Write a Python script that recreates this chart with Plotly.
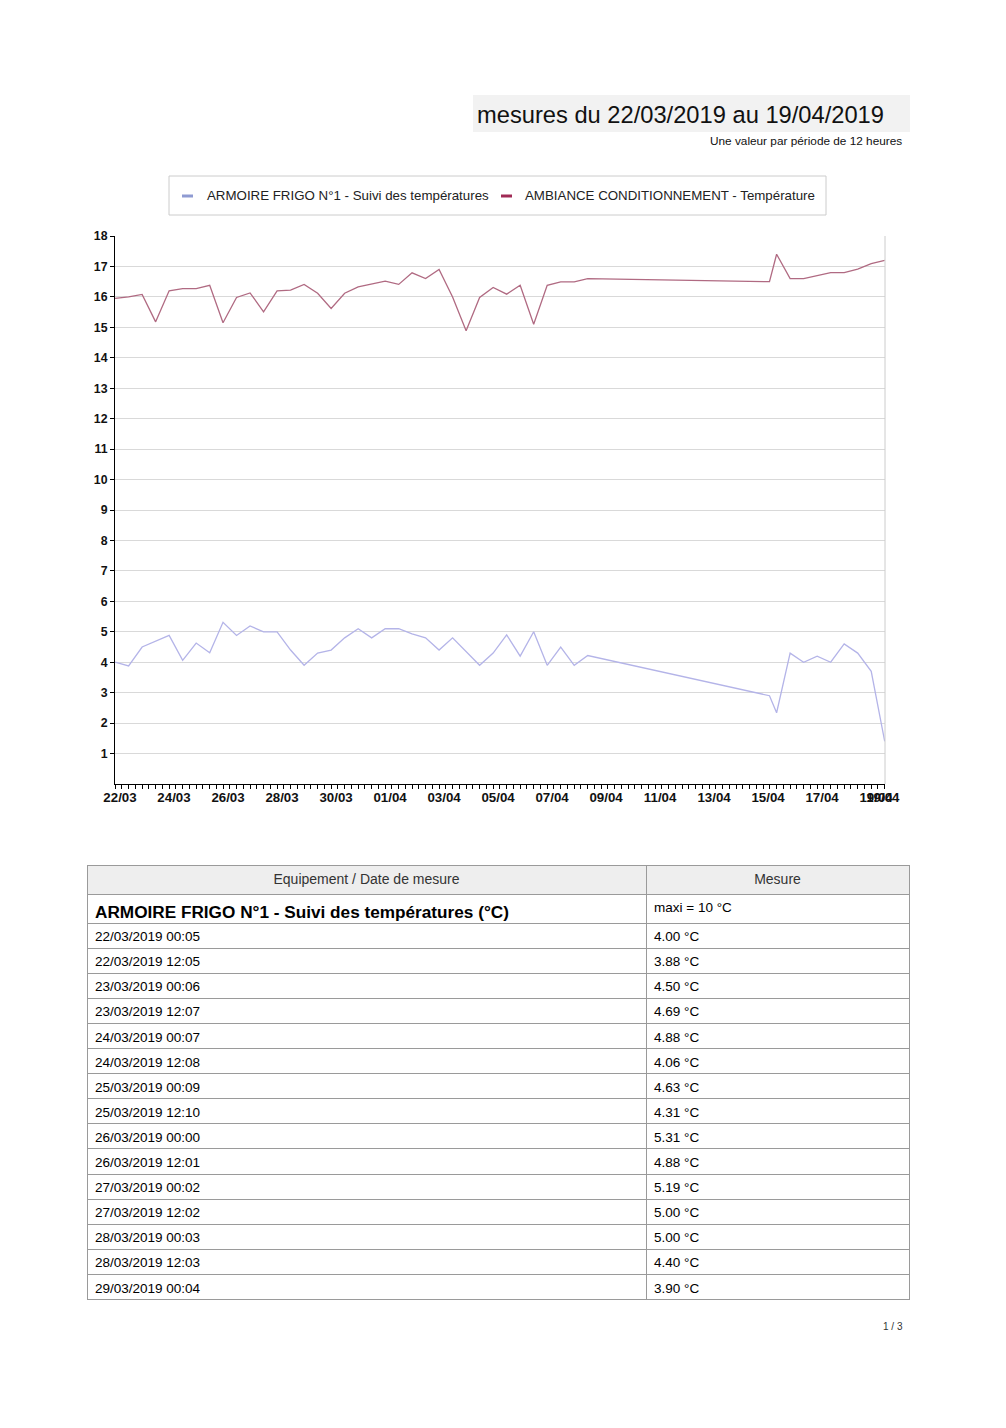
import plotly.graph_objects as go

W, H = 1006, 1428
FONT = "Liberation Sans, Arial, Helvetica, sans-serif"

# ---------------- data ----------------
times = [
    "2019-03-22 00:05", "2019-03-22 12:05", "2019-03-23 00:06", "2019-03-23 12:07",
    "2019-03-24 00:07", "2019-03-24 12:08", "2019-03-25 00:09", "2019-03-25 12:10",
    "2019-03-26 00:00", "2019-03-26 12:01", "2019-03-27 00:02", "2019-03-27 12:02",
    "2019-03-28 00:03", "2019-03-28 12:03", "2019-03-29 00:04", "2019-03-29 12:05",
    "2019-03-30 00:05", "2019-03-30 12:06", "2019-03-31 00:07", "2019-03-31 12:07",
    "2019-04-01 00:08", "2019-04-01 12:09", "2019-04-02 00:00", "2019-04-02 12:01",
    "2019-04-03 00:01", "2019-04-03 12:02", "2019-04-04 00:03", "2019-04-04 12:03",
    "2019-04-05 00:04", "2019-04-05 12:05", "2019-04-06 00:05", "2019-04-06 12:06",
    "2019-04-07 00:07", "2019-04-07 12:07", "2019-04-08 00:08", "2019-04-08 12:09",
    "2019-04-15 05:40", "2019-04-15 12:00", "2019-04-16 00:01", "2019-04-16 12:01",
    "2019-04-17 00:02", "2019-04-17 12:03", "2019-04-18 00:03", "2019-04-18 12:04",
    "2019-04-19 00:05", "2019-04-19 12:05",
]

frigo = [
    4.00, 3.88, 4.50, 4.69, 4.88, 4.06, 4.63, 4.31, 5.31, 4.88, 5.19, 5.00,
    5.00, 4.40, 3.90, 4.30, 4.40, 4.80, 5.10, 4.80, 5.10, 5.10, 4.93, 4.80,
    4.40, 4.80, 4.35, 3.90, 4.30, 4.90, 4.20, 5.00, 3.90, 4.50, 3.90, 4.22,
    2.90, 2.34, 4.30, 4.00, 4.20, 4.00, 4.60, 4.30, 3.70, 1.40,
]

ambiance = [
    15.95, 16.00, 16.08, 15.18, 16.20, 16.27, 16.27, 16.38, 15.15, 15.98, 16.13, 15.51,
    16.20, 16.22, 16.41, 16.12, 15.62, 16.12, 16.33, 16.42, 16.52, 16.41, 16.79, 16.60,
    16.90, 16.00, 14.89, 15.98, 16.31, 16.09, 16.38, 15.10, 16.38, 16.49, 16.49, 16.60,
    16.50, 17.40, 16.60, 16.60, 16.70, 16.80, 16.80, 16.91, 17.09, 17.20,
]

name_frigo = "ARMOIRE FRIGO N°1 - Suivi des températures"
name_amb = "AMBIANCE CONDITIONNEMENT - Température"

x_tickvals = [
    "2019-03-22", "2019-03-24", "2019-03-26", "2019-03-28", "2019-03-30",
    "2019-04-01", "2019-04-03", "2019-04-05", "2019-04-07", "2019-04-09",
    "2019-04-11", "2019-04-13", "2019-04-15", "2019-04-17", "2019-04-19",
    "2019-04-19 06:00",
]
x_ticktext = [
    "22/03", "24/03", "26/03", "28/03", "30/03", "01/04", "03/04", "05/04",
    "07/04", "09/04", "11/04", "13/04", "15/04", "17/04", "19/04", "19/04",
]
y_tickvals = list(range(1, 19))

title_text = "mesures du 22/03/2019 au 19/04/2019"
subtitle_text = "Une valeur par période de 12 heures"

table_header = ["Equipement / Date de mesure", "Mesure"]
table_group = ["<b>ARMOIRE FRIGO N°1 - Suivi des températures (°C)</b>", "maxi = 10 °C"]
table_dates = [
    "22/03/2019 00:05", "22/03/2019 12:05", "23/03/2019 00:06", "23/03/2019 12:07",
    "24/03/2019 00:07", "24/03/2019 12:08", "25/03/2019 00:09", "25/03/2019 12:10",
    "26/03/2019 00:00", "26/03/2019 12:01", "27/03/2019 00:02", "27/03/2019 12:02",
    "28/03/2019 00:03", "28/03/2019 12:03", "29/03/2019 00:04",
]
table_values = [f"{v:.2f} °C" for v in frigo[:len(table_dates)]]
page_text = "1 / 3"

# ---------------- helpers ----------------
def px(x):
    return x / W

def py(y):
    return 1 - y / H

fig = go.Figure()

fig.add_trace(go.Scatter(
    x=times, y=frigo, mode="lines", name=name_frigo,
    line=dict(color="#b4b4e8", width=1.3), showlegend=False, hoverinfo="skip",
))
fig.add_trace(go.Scatter(
    x=times, y=ambiance, mode="lines", name=name_amb,
    line=dict(color="#b06a82", width=1.3), showlegend=False, hoverinfo="skip",
))

LINE = dict(color="#9a9a9a", width=1)
BODY = 13.5

# tables
fig.add_trace(go.Table(
    domain=dict(x=[px(87), px(909)], y=[py(926), py(865)]),
    columnwidth=[559, 263],
    header=dict(
        values=table_header, height=29, align="center",
        fill_color="#eeeeee", line=LINE,
        font=dict(family=FONT, size=14, color="#333333"),
    ),
    cells=dict(
        values=[[table_group[0]], [table_group[1]]], height=29, align="left",
        fill_color="white", line=LINE,
        font=dict(family=FONT, size=[17.2, BODY], color="#000000"),
    ),
))
fig.add_trace(go.Table(
    domain=dict(x=[px(87), px(909)], y=[py(1306), py(923)]),
    columnwidth=[559, 263],
    header=dict(
        values=[table_dates[0], table_values[0]], height=25.1, align="left",
        fill_color="white", line=LINE,
        font=dict(family=FONT, size=BODY, color="#000000"),
    ),
    cells=dict(
        values=[table_dates[1:], table_values[1:]], height=25.1, align="left",
        fill_color="white", line=LINE,
        font=dict(family=FONT, size=BODY, color="#000000"),
    ),
))

shapes = []
annotations = []

# title box
shapes.append(dict(type="rect", xref="paper", yref="paper",
                   x0=px(473), x1=px(910), y0=py(132), y1=py(95),
                   fillcolor="#f2f2f2", line=dict(width=0), layer="below"))
annotations.append(dict(text=title_text, xref="paper", yref="paper",
                        x=px(886), y=py(115), xanchor="right", yanchor="middle",
                        showarrow=False, font=dict(family=FONT, size=23.7, color="#111111")))
annotations.append(dict(text=subtitle_text, xref="paper", yref="paper",
                        x=px(904), y=py(141), xanchor="right", yanchor="middle",
                        showarrow=False, font=dict(family=FONT, size=11.8, color="#111111")))

# legend box
shapes.append(dict(type="rect", xref="paper", yref="paper",
                   x0=px(169), x1=px(826), y0=py(215), y1=py(176),
                   fillcolor="white", line=dict(color="#cccccc", width=1)))
shapes.append(dict(type="line", xref="paper", yref="paper",
                   x0=px(182), x1=px(193), y0=py(196), y1=py(196),
                   line=dict(color="#8f9bd2", width=3)))
shapes.append(dict(type="line", xref="paper", yref="paper",
                   x0=px(501), x1=px(512), y0=py(196), y1=py(196),
                   line=dict(color="#a02a55", width=3)))
annotations.append(dict(text=name_frigo, xref="paper", yref="paper",
                        x=px(205), y=py(196), xanchor="left", yanchor="middle",
                        showarrow=False, font=dict(family=FONT, size=13.3, color="#222222")))
annotations.append(dict(text=name_amb, xref="paper", yref="paper",
                        x=px(523), y=py(196), xanchor="left", yanchor="middle",
                        showarrow=False, font=dict(family=FONT, size=13.3, color="#222222")))

# right border of plot area
shapes.append(dict(type="line", xref="x domain", yref="y domain",
                   x0=1, x1=1, y0=0, y1=1, line=dict(color="#cccccc", width=1)))

# page number
annotations.append(dict(text=page_text, xref="paper", yref="paper",
                        x=px(905), y=py(1326), xanchor="right", yanchor="middle",
                        showarrow=False, font=dict(family=FONT, size=10, color="#333333")))

fig.update_layout(
    template="none",
    width=W, height=H, autosize=False,
    margin=dict(l=0, r=0, t=0, b=0, pad=0, autoexpand=False),
    paper_bgcolor="white", plot_bgcolor="white",
    font=dict(family=FONT, color="#000000"),
    shapes=shapes, annotations=annotations,
    showlegend=False,
    xaxis=dict(
        domain=[px(115), px(885)],
        type="date", automargin=False,
        range=["2019-03-22 00:00", "2019-04-19 12:20"],
        tickvals=x_tickvals, ticktext=x_ticktext, tickangle=0,
        ticks="outside", ticklen=4, tickcolor="#000000", tickwidth=1,
        tickfont=dict(family=FONT, size=13.3, color="#111111", weight="bold"),
        ticklabelshift=5, ticklabelstandoff=-3,
        showline=True, linecolor="#000000", linewidth=1,
        showgrid=False, zeroline=False,
        minor=dict(ticks="outside", ticklen=4, tickcolor="#000000",
                   dtick=6 * 3600 * 1000, tick0="2019-03-22 00:00", showgrid=False),
        fixedrange=True,
    ),
    yaxis=dict(
        domain=[py(784), py(236)],
        range=[0, 18], automargin=False,
        tickvals=y_tickvals,
        ticks="outside", ticklen=4, tickcolor="#000000",
        tickfont=dict(family=FONT, size=12.3, color="#111111", weight="bold"),
        showline=True, linecolor="#000000", linewidth=1,
        showgrid=True, gridcolor="#d9d9d9", gridwidth=1,
        zeroline=False, fixedrange=True,
    ),
)

fig.write_html(
    "out.html",
    config={"displayModeBar": False},
    post_script="document.body.style.margin='0';document.body.style.padding='0';"
                "document.documentElement.style.overflow='hidden';"
                "document.body.style.overflow='hidden';",
)
